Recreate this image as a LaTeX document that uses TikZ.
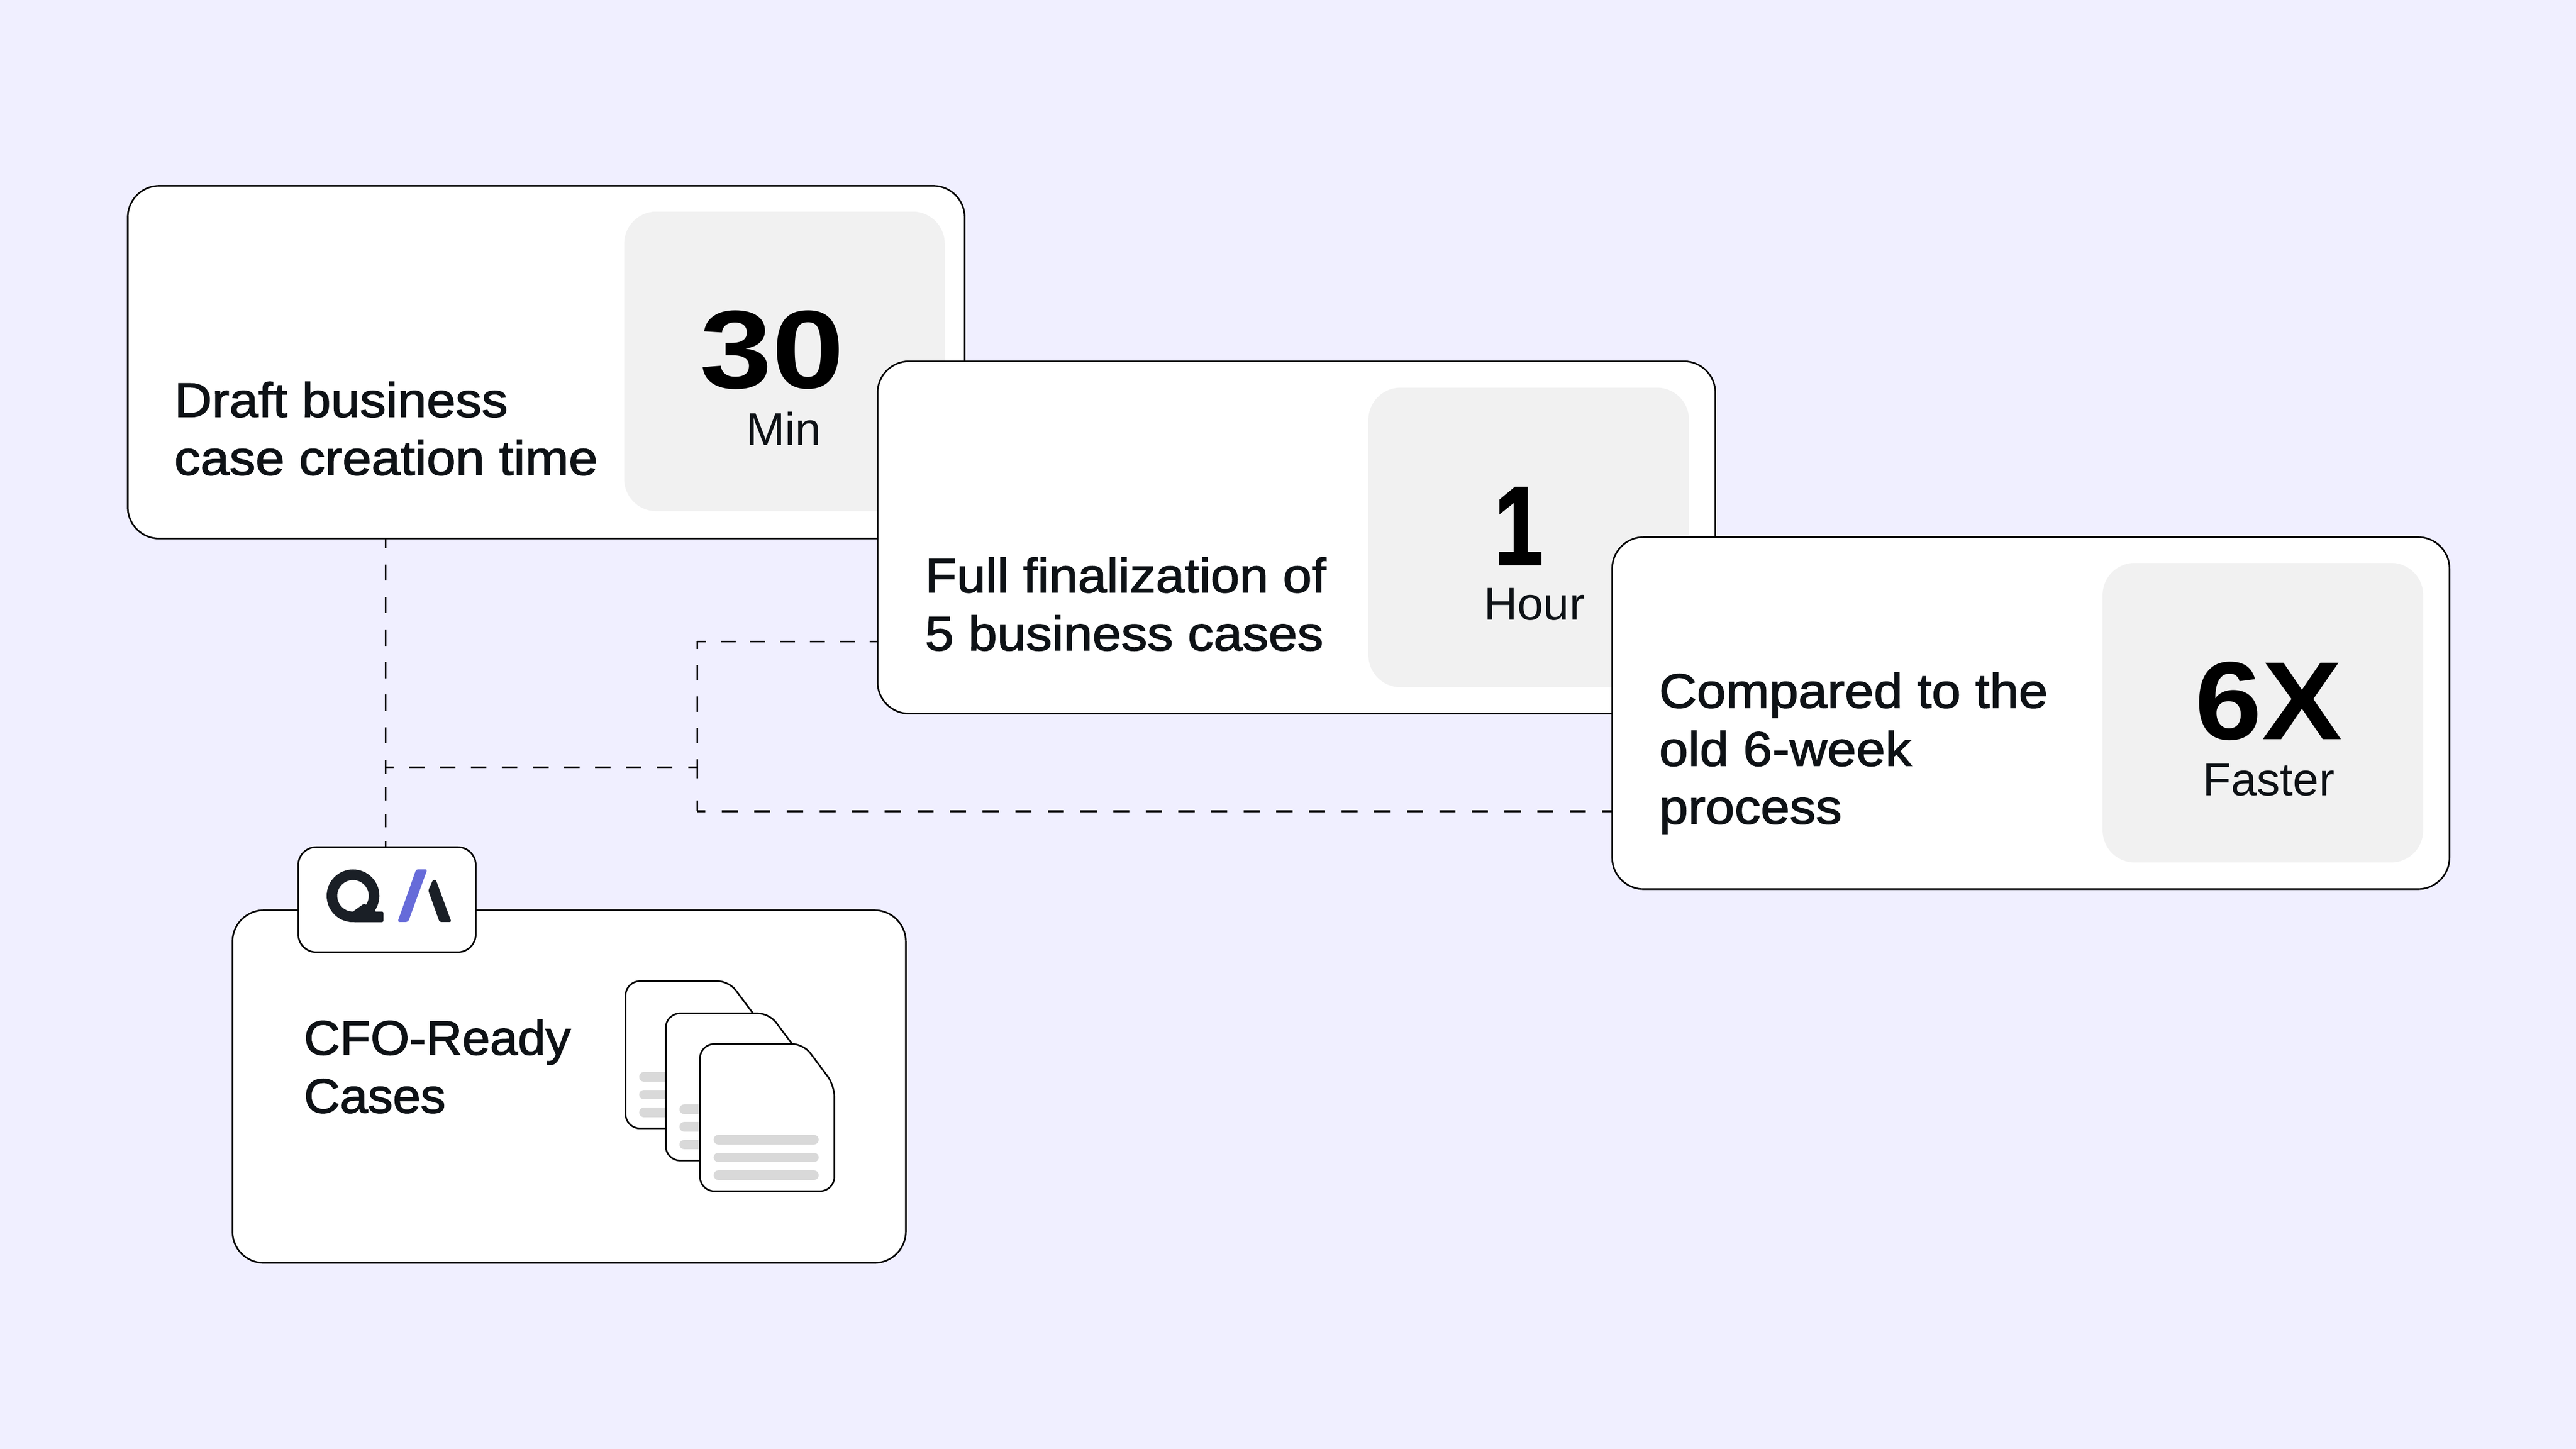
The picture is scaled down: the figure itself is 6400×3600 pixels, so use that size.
\documentclass[tikz,border=0pt]{standalone}
\usepackage{fontspec}
\setmainfont{Liberation Sans}
\newfontfamily\labelA[FakeStretch=1.078,FakeBold=1.8]{Liberation Sans}
\newfontfamily\labelB[FakeStretch=1.073,FakeBold=1.8]{Liberation Sans}
\newfontfamily\labelC[FakeStretch=1.078,FakeBold=1.8]{Liberation Sans}
\newfontfamily\labelD[FakeStretch=1.033,FakeBold=1.8]{Liberation Sans}
\newfontfamily\regf[FakeStretch=1.01]{Liberation Sans}
\newfontfamily\bigA[FakeStretch=1.17]{Liberation Sans}
\newfontfamily\bigB[FakeStretch=0.78,FakeBold=2]{Liberation Sans}
\newfontfamily\bigC[FakeStretch=1.083]{Liberation Sans}
\definecolor{bgc}{HTML}{F0EFFF}
\definecolor{panelc}{HTML}{F1F1F1}
\definecolor{ink}{HTML}{0E1216}
\definecolor{barc}{HTML}{D9D9D9}
\definecolor{logoblue}{HTML}{666BD9}
\definecolor{logodark}{HTML}{1A1F26}
\newcommand{\labelsize}{\fontsize{34.2}{41}\selectfont}
\newcommand{\statsize}{\bfseries\fontsize{78.5}{80}\selectfont}
\tikzset{
  card/.style={draw=black,fill=white,line width=0.04cm,rounded corners=0.78cm,inner sep=0pt,outer sep=0pt},
  panel/.style={fill=panelc,rounded corners=0.8cm,inner sep=0pt,outer sep=0pt,minimum width=7.96cm,minimum height=7.44cm},
  tagbox/.style={draw=black,fill=white,line width=0.04cm,rounded corners=0.45cm,inner sep=0pt,outer sep=0pt},
  labeltext/.style={text=ink,inner sep=0pt,outer sep=0pt,align=left,anchor=base west},
  unittext/.style={text=ink,inner sep=0pt,outer sep=0pt,anchor=base,font=\regf\fontsize{32.6}{40}\selectfont},
  stattext/.style={text=black,inner sep=0pt,outer sep=0pt,anchor=base},
  linkline/.style={draw=black,line width=0.04cm},
  sheet/.style={draw=black,fill=white,line width=0.04cm,rounded corners=0.36cm},
  sheetbar/.style={draw=barc,line width=0.24cm,line cap=round}
}
\newcommand{\docsheet}[2]{%
  \draw[sheet] (#1,#2) [rounded corners=0.28cm] -- (#1+257,#2) -- (#1+334,#2+103) [rounded corners=0.36cm] -- (#1+334,#2+366) -- (#1,#2+366) -- cycle;
  \draw[sheetbar] (#1+46,#2+238) -- (#1+283,#2+238);
  \draw[sheetbar] (#1+46,#2+282) -- (#1+283,#2+282);
  \draw[sheetbar] (#1+46,#2+326) -- (#1+283,#2+326);
}
\begin{document}
\begin{tikzpicture}[x=0.01cm,y=-0.01cm]
\useasboundingbox (0,0) rectangle (6400,3600);
\fill[bgc] (0,0) rectangle (6400,3600);

\node[card,minimum width=20.78cm,minimum height=8.76cm] (c1) at (1357,900) {};
\node[panel] (p1) at (1949,898) {};
\node[stattext,font=\bigA\statsize] (n1) at (1918,964) {30};
\node[unittext] (u1) at (1947,1106) {Min};
\node[labeltext,font=\labelA\labelsize] (l1) at (433,1180) {Draft business\\case creation time};

\node[card,minimum width=20.8cm,minimum height=8.75cm] (c2) at (3221,1335.5) {};
\node[panel] (p2) at (3798,1335.5) {};
\node[stattext,font=\bigB\statsize] (n2) at (3773,1402) {1};
\node[unittext] (u2) at (3812,1540) {Hour};
\node[labeltext,font=\labelB\labelsize] (l2) at (2298,1616) {Full finalization of\\5 business cases};

\node[card,minimum width=20.79cm,minimum height=8.74cm] (c3) at (5045.5,1772) {};
\node[panel] (p3) at (5622,1771) {};
\node[stattext,font=\bigC\statsize] (n3) at (5636,1838) {6X};
\node[unittext] (u3) at (5636,1977) {Faster};
\node[labeltext,font=\labelC\labelsize] (l3) at (4122,2047) {Compared to the\\old 6-week\\process};

\node[card,minimum width=16.72cm,minimum height=8.76cm] (c4) at (1414,2700) {};
\node[tagbox,minimum width=4.41cm,minimum height=2.61cm] (tag) at (961.5,2235.5) {};
\node[labeltext,font=\labelD\labelsize] (l4) at (755,2765) {CFO-Ready\\Cases};

% connector junctions
\coordinate (j1) at (1732,1594);
\coordinate (j2) at (1732,2016);
\coordinate (j3) at (958,1906);
\coordinate (j4) at (1732,1906);

\draw[linkline,dash pattern=on 0.40cm off 0.407cm,dash phase=0.16cm] (c1.south -| j3) -- (j3);
\draw[linkline,dash pattern=on 0.335cm off 0.335cm,dash phase=0.175cm] (j3) -- (j3 |- tag.north);
\draw[linkline,dash pattern=on 0.385cm off 0.385cm,dash phase=0.19cm] (j3) -- (j4);
\draw[linkline,dash pattern=on 0.37cm off 0.37cm,dash phase=0.17cm] (c2.west |- j1) -- (j1);
\draw[linkline,dash pattern=on 0.39cm off 0.39cm,dash phase=0.20cm] (j1) -- (j4);
\draw[linkline,dash pattern=on 0.275cm off 0.55cm] (j4) -- (j2);
\draw[linkline,dash pattern=on 0.40cm off 0.41cm,dash phase=0.20cm] (j2) -- (c3.west |- j2);

% logo
\fill[logodark,even odd rule] (877,2226) circle[radius=65.5] (877,2226) circle[radius=39.2];
\fill[logodark,rounded corners=0.04cm] (877,2291.5) -- (952.7,2291.5) -- (952.7,2265) -- (930,2265) -- (905,2245) -- (877,2265) -- cycle;
\fill[logoblue,rounded corners=0.05cm] (1034,2160) -- (1061.7,2160) -- (1014,2291) -- (987.7,2291) -- cycle;
\fill[logodark,rounded corners=0.04cm] (1075.5,2186.5) -- (1083,2186.5) -- (1121.5,2291) -- (1092,2291) -- (1064,2212.7) -- cycle;

% documents
\docsheet{1554}{2438}
\docsheet{1654}{2518}
\docsheet{1739}{2594}
\end{tikzpicture}
\end{document}
